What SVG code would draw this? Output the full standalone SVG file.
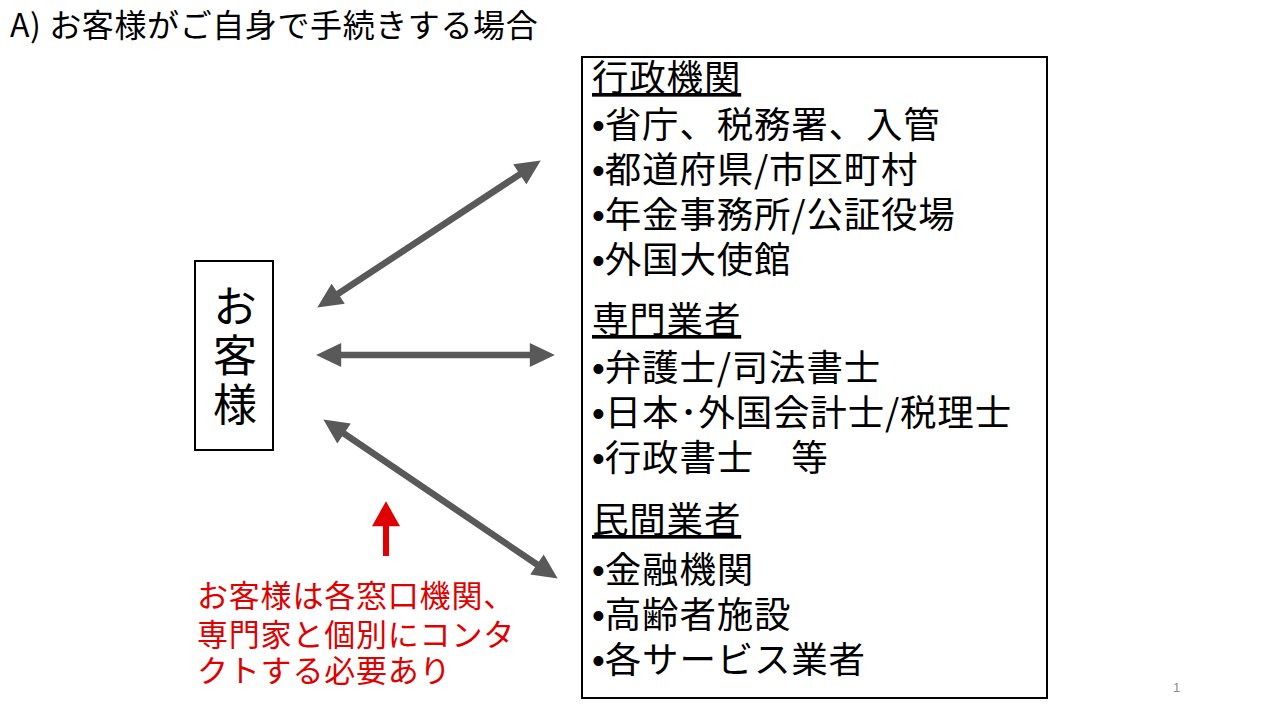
<svg xmlns="http://www.w3.org/2000/svg" width="1280" height="720" viewBox="0 0 1280 720">
<defs>
<style>
text{font-family:"Noto Sans CJK JP","Noto Sans",sans-serif;fill:#000}
.title{font-size:32px;letter-spacing:0.6px}
.list{font-size:36.5px;letter-spacing:0.8px}
.head{text-decoration:underline}
.b{font-family:"Liberation Sans",Arial,sans-serif;letter-spacing:0}
.cust{font-size:44px;writing-mode:vertical-rl;letter-spacing:5px}
.note{font-size:31px;letter-spacing:0.8px;fill:#e00000}
.box{fill:#fff;stroke:#000;stroke-width:2}
.conn{stroke:#595959;stroke-width:6.5;fill:none;marker-start:url(#ah);marker-end:url(#ah)}
.pg{font-size:13px;fill:#8c8c8c;font-family:"Liberation Sans",Arial,sans-serif}
</style>
<marker id="ah" markerUnits="userSpaceOnUse" markerWidth="26" markerHeight="24" refX="4" refY="11.5" orient="auto-start-reverse" viewBox="0 0 24 23">
<path d="M0,0 L24,11.5 L0,23 z" fill="#595959"/>
</marker>
<marker id="rh" markerUnits="userSpaceOnUse" markerWidth="26" markerHeight="28" refX="4" refY="13.5" orient="auto" viewBox="0 0 24 27">
<path d="M0,0 L24,13.5 L0,27 z" fill="#e00000"/>
</marker>
</defs>
<rect width="1280" height="720" fill="#fff"/>
<text class="title" x="10" y="37">A) お客様がご自身で手続きする場合</text>

<g id="customer">
<rect class="box" x="195" y="261" width="78" height="189"/>
<text class="cust" x="235" y="284">お客様</text>
</g>

<g id="providers">
<rect class="box" x="582" y="57" width="465" height="641"/>
<text class="list">
<tspan class="head" x="592" y="91">行政機関</tspan>
<tspan x="592" y="138"><tspan class="b">•</tspan>省庁、税務署、入管</tspan>
<tspan x="592" y="183"><tspan class="b">•</tspan>都道府県/市区町村</tspan>
<tspan x="592" y="228"><tspan class="b">•</tspan>年金事務所/公証役場</tspan>
<tspan x="592" y="273"><tspan class="b">•</tspan>外国大使館</tspan>
<tspan class="head" x="592" y="333">専門業者</tspan>
<tspan x="592" y="381"><tspan class="b">•</tspan>弁護士/司法書士</tspan>
<tspan x="592" y="426"><tspan class="b">•</tspan>日本･外国会計士/税理士</tspan>
<tspan x="592" y="471"><tspan class="b">•</tspan>行政書士　等</tspan>
<tspan class="head" x="592" y="533">民間業者</tspan>
<tspan x="592" y="583"><tspan class="b">•</tspan>金融機関</tspan>
<tspan x="592" y="628"><tspan class="b">•</tspan>高齢者施設</tspan>
<tspan x="592" y="673"><tspan class="b">•</tspan>各サービス業者</tspan>
</text>
</g>

<g id="connectors">
<line class="conn" x1="334.7" y1="296" x2="523.3" y2="172"/>
<line class="conn" x1="337" y1="355" x2="534" y2="355"/>
<line class="conn" x1="340.6" y1="431.2" x2="540.4" y2="566.8"/>
</g>

<g id="note">
<line x1="386" y1="556" x2="386" y2="522" stroke="#e00000" stroke-width="6" marker-end="url(#rh)"/>
<text class="note">
<tspan x="197" y="607">お客様は各窓口機関、</tspan>
<tspan x="197" y="646">専門家と個別にコンタ</tspan>
<tspan x="197" y="682">クトする必要あり</tspan>
</text>
</g>

<text class="pg" x="1173" y="692">1</text>
</svg>
